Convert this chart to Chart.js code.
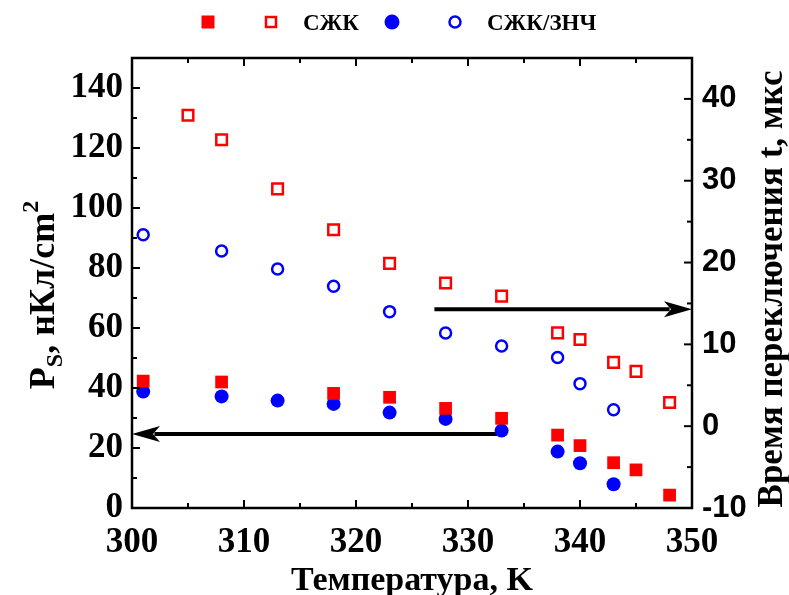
<!DOCTYPE html>
<html>
<head>
<meta charset="utf-8">
<script src="https://cdn.jsdelivr.net/npm/chart.js@4.4.0/dist/chart.umd.min.js"></script>
<style>
  html, body { margin: 0; padding: 0; background: #fff; }
  #wrap { width: 789px; height: 595px; position: relative; }
</style>
</head>
<body>
<div id="wrap"><canvas id="chart"></canvas></div>
<script>
// данные
const tempZhk = [301, 308, 318, 323, 328, 333, 338, 340, 343, 345, 348];
const psZhk = [42.3, 42, 38.2, 36.9, 33.2, 29.9, 24.3, 20.8, 15.1, 12.7, 4.3];

const tempZhkT = [305, 308, 313, 318, 323, 328, 333, 338, 340, 343, 345, 348];
const tZhk = [38.0, 35.0, 29.0, 24.0, 19.9, 17.5, 15.9, 11.4, 10.6, 7.8, 6.7, 2.9];

const tempZnch = [301, 308, 313, 318, 323, 328, 333, 338, 340, 343];
const psZnch = [38.8, 37.2, 35.8, 34.7, 31.8, 29.7, 25.8, 18.8, 14.9, 7.9];
const tZnch = [23.4, 21.4, 19.2, 17.1, 14.0, 11.4, 9.8, 8.4, 5.2, 2.0];

const xTicks = [300, 310, 320, 330, 340, 350];
const psTicks = [0, 20, 40, 60, 80, 100, 120, 140];
const tTicks = [-10, 0, 10, 20, 30, 40];

// стрелки: [от x, до x, значение y, ось]
const arrowLeft = [333.3, 300, 24.7, 'y'];
const arrowRight = [327, 350, 14.3, 'y1'];

const RED = '#ff0000';
const BLUE = '#0000ff';
const SERIF = '"Liberation Serif", "Times New Roman", serif';
const SANS = '"Liberation Sans", Arial, sans-serif';

const toPts = (xs, ys) => xs.map((x, i) => ({ x: x, y: ys[i] }));

const setTicks = (arr) => (scale) => {
    scale.ticks = arr.map(v => ({ value: v }));
};

// рамка, внутренние засечки, стрелки
const framePlugin = {
    id: 'frame',
    beforeDatasetsDraw(chart) {
        const ctx = chart.ctx;
        const drawArrow = (a) => {
            const xs = chart.scales.x;
            const ys = chart.scales[a[3]];
            const x1 = xs.getPixelForValue(a[0]);
            const x2 = xs.getPixelForValue(a[1]);
            const y = ys.getPixelForValue(a[2]);
            const dir = x2 > x1 ? 1 : -1;
            const head = 28;
            ctx.save();
            ctx.strokeStyle = '#000';
            ctx.fillStyle = '#000';
            ctx.lineWidth = 4;
            ctx.beginPath();
            ctx.moveTo(x1, y);
            ctx.lineTo(x2 - dir * head * 0.8, y);
            ctx.stroke();
            ctx.beginPath();
            ctx.moveTo(x2, y);
            ctx.lineTo(x2 - dir * head, y - 8);
            ctx.lineTo(x2 - dir * head * 0.75, y);
            ctx.lineTo(x2 - dir * head, y + 8);
            ctx.closePath();
            ctx.fill();
            ctx.restore();
        };
        drawArrow(arrowLeft);
        drawArrow(arrowRight);
    },
    afterDraw(chart) {
        const ctx = chart.ctx;
        const a = chart.chartArea;
        const xs = chart.scales.x, yl = chart.scales.y, yr = chart.scales.y1;
        ctx.save();
        ctx.strokeStyle = '#000';
        ctx.lineWidth = 2;
        const minor = (arr) => {
            const out = [];
            for (let i = 0; i < arr.length - 1; i++) out.push((arr[i] + arr[i + 1]) / 2);
            out.push(arr[arr.length - 1] + (arr[1] - arr[0]) / 2);
            return out;
        };
        const tick = (x1, y1, x2, y2) => {
            ctx.beginPath(); ctx.moveTo(x1, y1); ctx.lineTo(x2, y2); ctx.stroke();
        };
        xTicks.forEach(v => {
            const px = xs.getPixelForValue(v);
            tick(px, a.bottom, px, a.bottom - 8);
            tick(px, a.top, px, a.top + 8);
        });
        minor(xTicks).forEach(v => {
            if (v >= xs.max) return;
            const px = xs.getPixelForValue(v);
            tick(px, a.bottom, px, a.bottom - 5);
            tick(px, a.top, px, a.top + 5);
        });
        psTicks.forEach(v => { const py = yl.getPixelForValue(v); tick(a.left, py, a.left + 8, py); });
        minor(psTicks).forEach(v => { if (v < yl.max) { const py = yl.getPixelForValue(v); tick(a.left, py, a.left + 5, py); } });
        tTicks.forEach(v => { const py = yr.getPixelForValue(v); tick(a.right, py, a.right - 8, py); });
        minor(tTicks).forEach(v => { if (v < yr.max) { const py = yr.getPixelForValue(v); tick(a.right, py, a.right - 5, py); } });
        ctx.lineWidth = 2.5;
        ctx.strokeRect(a.left, a.top, a.right - a.left, a.bottom - a.top);

        // подписи осей
        ctx.fillStyle = '#000';
        ctx.textBaseline = 'alphabetic';
        ctx.font = 'bold 34px ' + SERIF;
        ctx.textAlign = 'center';
        ctx.fillText('Температура, K', (a.left + a.right) / 2, 590);

        // левая ось: Ps, нКл/cm2
        ctx.save();
        ctx.translate(54, 295);
        ctx.rotate(-Math.PI / 2);
        const parts = [
            ['P', 'bold 36px ' + SERIF, 0],
            ['S', 'bold 24px ' + SERIF, 8],
            [', нКл/cm', 'bold 36px ' + SERIF, 0],
            ['2', 'bold 24px ' + SERIF, -16]
        ];
        let total = 0;
        parts.forEach(p => { ctx.font = p[1]; total += ctx.measureText(p[0]).width; });
        let cx = -total / 2;
        ctx.textAlign = 'left';
        parts.forEach(p => {
            ctx.font = p[1];
            ctx.fillText(p[0], cx, p[2]);
            cx += ctx.measureText(p[0]).width;
        });
        ctx.restore();

        // правая ось
        ctx.save();
        ctx.translate(782, 289);
        ctx.rotate(-Math.PI / 2);
        ctx.font = 'bold 35px ' + SERIF;
        ctx.textAlign = 'center';
        ctx.fillText('Время переключения t, мкс', 0, 0);
        ctx.restore();

        // легенда
        ctx.fillStyle = RED;
        ctx.fillRect(208 - 6.5, 22 - 6.5, 13, 13);
        ctx.strokeStyle = RED;
        ctx.lineWidth = 2.5;
        ctx.strokeRect(271 - 5, 22 - 5, 10, 10);
        ctx.fillStyle = BLUE;
        ctx.beginPath(); ctx.arc(392, 22, 7.5, 0, Math.PI * 2); ctx.fill();
        ctx.strokeStyle = BLUE;
        ctx.beginPath(); ctx.arc(455, 22, 5.5, 0, Math.PI * 2); ctx.stroke();
        ctx.fillStyle = '#000';
        ctx.font = 'bold 23px ' + SERIF;
        ctx.textAlign = 'left';
        ctx.textBaseline = 'middle';
        ctx.fillText('СЖК', 303, 24);
        ctx.fillText('СЖК/ЗНЧ', 487, 24);
        ctx.restore();
    }
};

const renderChart = () => {
    const ctx = document.getElementById('chart').getContext('2d');
    // eslint-disable-next-line no-undef
    new Chart(ctx, {
        type: 'scatter',
        data: {
            datasets: [
                {
                    label: 'СЖК Ps',
                    data: toPts(tempZhk, psZhk),
                    yAxisID: 'y',
                    pointStyle: 'rect',
                    pointRadius: 9,
                    backgroundColor: RED,
                    borderColor: RED,
                    borderWidth: 0
                },
                {
                    label: 'СЖК t',
                    data: toPts(tempZhkT, tZhk),
                    yAxisID: 'y1',
                    pointStyle: 'rect',
                    pointRadius: 7.5,
                    backgroundColor: 'rgba(0,0,0,0)',
                    borderColor: RED,
                    borderWidth: 2.5
                },
                {
                    label: 'СЖК/ЗНЧ Ps',
                    data: toPts(tempZnch, psZnch),
                    yAxisID: 'y',
                    pointStyle: 'circle',
                    pointRadius: 7,
                    backgroundColor: BLUE,
                    borderColor: BLUE,
                    borderWidth: 0
                },
                {
                    label: 'СЖК/ЗНЧ t',
                    data: toPts(tempZnch, tZnch),
                    yAxisID: 'y1',
                    pointStyle: 'circle',
                    pointRadius: 5.5,
                    backgroundColor: 'rgba(0,0,0,0)',
                    borderColor: BLUE,
                    borderWidth: 2.5
                }
            ]
        },
        options: {
            responsive: false,
            animation: false,
            layout: { padding: { top: 58, left: 0, right: 0, bottom: 0 } },
            plugins: {
                legend: { display: false },
                tooltip: { enabled: false }
            },
            scales: {
                x: {
                    type: 'linear',
                    min: 300,
                    max: 350,
                    afterBuildTicks: setTicks(xTicks),
                    afterFit: (s) => { s.height = 87; },
                    grid: { display: false, drawTicks: false },
                    border: { display: false },
                    ticks: {
                        padding: 14,
                        color: '#000',
                        font: { family: SERIF, size: 35, weight: 'bold' }
                    }
                },
                y: {
                    position: 'left',
                    min: 0,
                    max: 150,
                    afterBuildTicks: setTicks(psTicks),
                    afterFit: (s) => { s.width = 132; },
                    grid: { display: false, drawTicks: false },
                    border: { display: false },
                    ticks: {
                        padding: 9,
                        color: '#000',
                        font: { family: SERIF, size: 35, weight: 'bold' }
                    }
                },
                y1: {
                    position: 'right',
                    min: -10,
                    max: 45,
                    afterBuildTicks: setTicks(tTicks),
                    afterFit: (s) => { s.width = 97; },
                    grid: { display: false, drawTicks: false },
                    border: { display: false },
                    ticks: {
                        padding: 10,
                        color: '#000',
                        font: { family: SANS, size: 31, weight: 'bold' }
                    }
                }
            }
        },
        plugins: [framePlugin]
    });
};

const cv = document.getElementById('chart');
cv.width = 789;
cv.height = 595;
renderChart();
</script>
</body>
</html>
